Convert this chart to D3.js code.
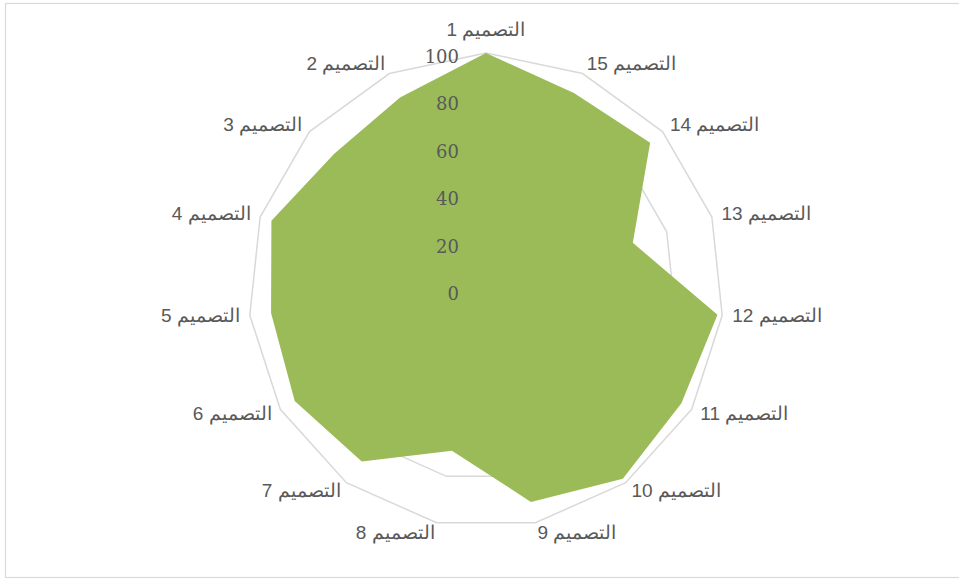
<!DOCTYPE html>
<html>
<head>
<meta charset="utf-8">
<script src="https://cdn.jsdelivr.net/npm/d3@7"></script>
<style>
  body { margin: 0; background: #fff; }
  svg { display: block; }
</style>
</head>
<body>
<svg id="chart"></svg>
<script>
// radar chart, categories run counter-clockwise from the top
const categories = [
  "التصميم 1", "التصميم 2", "التصميم 3", "التصميم 4", "التصميم 5",
  "التصميم 6", "التصميم 7", "التصميم 8", "التصميم 9", "التصميم 10",
  "التصميم 11", "التصميم 12", "التصميم 13", "التصميم 14", "التصميم 15"
];
const values = [100, 89, 86, 95, 91, 93, 89, 69, 91, 98, 95, 98, 65, 93, 91];
const ticks = [0, 20, 40, 60, 80, 100];

const width = 959,
  height = 581;
const cx = 486,
  cy = 290.5,
  radius = 237.5;

const svg = d3.select("#chart").attr("width", width).attr("height", height);

// chart border
svg
  .append("rect")
  .attr("x", 5.5)
  .attr("y", 3.5)
  .attr("width", 960)
  .attr("height", 574)
  .attr("fill", "none")
  .attr("stroke", "#d9d9d9")
  .attr("stroke-width", 1.2);

const r = d3.scaleLinear().domain([0, 100]).range([0, radius]);

// angle measured clockwise from the top; negative step -> counter-clockwise
const angle = d3
  .scaleLinear()
  .domain([0, categories.length])
  .range([0, -2 * Math.PI]);

function pt(i, v) {
  const a = angle(i);
  return [cx + r(v) * Math.sin(a), cy - r(v) * Math.cos(a)];
}

const g = svg.append("g");

// rings
const ringLine = d3.line().curve(d3.curveLinearClosed);
g.selectAll("path.ring")
  .data(ticks.filter(function(t) { return t > 0; }))
  .enter()
  .append("path")
  .attr("class", "ring")
  .attr("d", function(t) {
    return ringLine(categories.map(function(c, i) { return pt(i, t); }));
  })
  .attr("fill", "none")
  .attr("stroke", "#d9d9d9")
  .attr("stroke-width", 1.5);

// series area
g.append("path")
  .attr("d", ringLine(values.map(function(v, i) { return pt(i, v); })))
  .attr("fill", "#9bbb59");

// value axis labels
g.selectAll("text.tick")
  .data(ticks)
  .enter()
  .append("text")
  .attr("class", "tick")
  .attr("x", cx - 27)
  .attr("y", function(t) { return cy - r(t) + 9.5; })
  .attr("text-anchor", "end")
  .attr("font-family", "'DejaVu Serif', serif")
  .attr("font-size", 18)
  .attr("fill", "#595959")
  .text(function(t) { return t; });

// category labels
g.selectAll("text.cat")
  .data(categories)
  .enter()
  .append("text")
  .attr("class", "cat")
  .attr("direction", "rtl")
  .attr("font-family", "'Liberation Sans', Arial, sans-serif")
  .attr("font-size", 19)
  .attr("fill", "#595959")
  .each(function(d, i) {
    const a = angle(i);
    const s = Math.sin(a),
      c = Math.cos(a);
    const lx = cx + (radius + 10) * s;
    let ly = cy - (radius + 10) * c + 6;
    let anchor;
    if (Math.abs(s) < 0.1) {
      anchor = "middle";
      ly -= c * 13;
    } else if (s > 0) {
      anchor = "end"; // rtl: end is the left edge
    } else {
      anchor = "start"; // rtl: start is the right edge
    }
    d3.select(this)
      .attr("x", lx)
      .attr("y", ly)
      .attr("text-anchor", anchor)
      .text(d);
  });
</script>
</body>
</html>
